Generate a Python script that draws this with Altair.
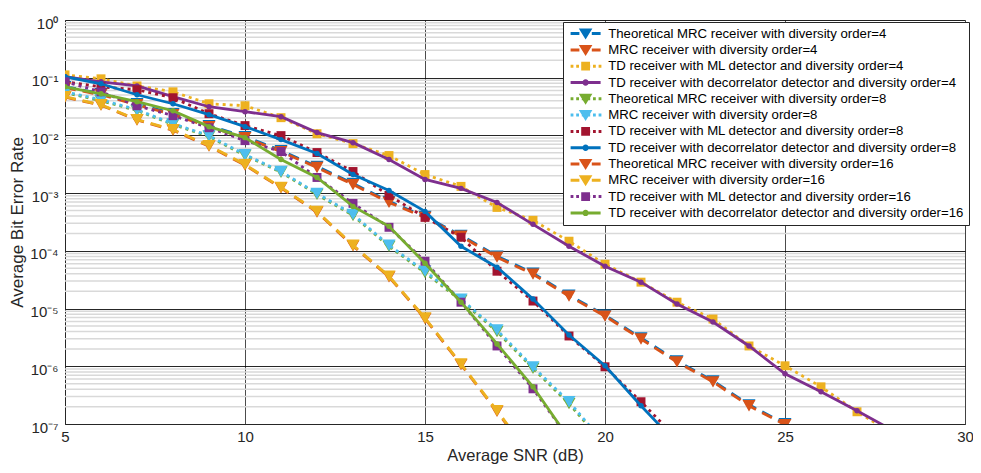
import altair as alt
import pandas as pd

# ---------------- data ----------------
series_names = [
    "Theoretical MRC receiver with diversity order=4",
    "MRC receiver with diversity order=4",
    "TD receiver with ML detector and diversity order=4",
    "TD receiver with decorrelator detector and diversity order=4",
    "Theoretical MRC receiver with diversity order=8",
    "MRC receiver with diversity order=8",
    "TD receiver with ML detector and diversity order=8",
    "TD receiver with decorrelator detector and diversity order=8",
    "Theoretical MRC receiver with diversity order=16",
    "MRC receiver with diversity order=16",
    "TD receiver with ML detector and diversity order=16",
    "TD receiver with decorrelator detector and diversity order=16",
]

snr_start = 5  # every series starts at 5 dB, 1 dB step

theory_mrc_4 = [0.070, 0.053, 0.0354, 0.0238, 0.0148, 0.0095, 0.00545, 0.0029, 0.00147,
                7.2e-4, 3.95e-4, 1.86e-4, 8.1e-5, 4.1e-5, 1.71e-5, 7.7e-6, 3.1e-6,
                1.24e-6, 5.6e-7, 2.15e-7, 1.01e-7]
mrc_4 = [0.067, 0.0507, 0.034, 0.0229, 0.0142, 0.00916, 0.00525, 0.00278, 0.00141,
         6.9e-4, 3.8e-4, 1.79e-4, 7.76e-5, 3.94e-5, 1.64e-5, 7.42e-6, 2.97e-6,
         1.19e-6, 5.38e-7, 2.07e-7, 9.7e-8]
td_ml_4 = [0.112, 0.0957, 0.072, 0.057, 0.0354, 0.0327, 0.0203, 0.0107, 0.00722,
           0.00448, 0.0021, 0.00131, 5.66e-4, 3.38e-4, 1.47e-4, 5.87e-5, 2.87e-5,
           1.29e-5, 6.59e-6, 2.25e-6, 1.02e-6, 4.41e-7, 1.63e-7, 6.8e-8]
td_dec_4 = [0.104, 0.085, 0.072, 0.047, 0.0314, 0.0258, 0.0211, 0.0112, 0.0075,
            0.00382, 0.00173, 0.00121, 6.9e-4, 2.88e-4, 1.2e-4, 5.42e-5, 2.87e-5,
            1.2e-5, 5.85e-6, 2.25e-6, 7.4e-7, 3.61e-7, 1.7e-7, 7.7e-8]
theory_mrc_8 = [0.055, 0.040, 0.027, 0.0155, 0.0096, 0.0045, 0.0023, 9.5e-4, 4.1e-4,
                1.2e-4, 4.2e-5, 1.38e-5, 4.0e-6, 9.2e-7, 2.25e-7, 4.3e-8]
mrc_8 = [0.057, 0.0415, 0.0279, 0.016, 0.00992, 0.00466, 0.00237, 9.9e-4, 4.29e-4,
         1.25e-4, 4.44e-5, 1.46e-5, 4.25e-6, 9.8e-7, 2.43e-7, 4.57e-8]
td_ml_8 = [0.085, 0.0697, 0.0618, 0.045, 0.0238, 0.0148, 0.00993, 0.00505, 0.00237,
           9.13e-4, 3.8e-4, 1.72e-4, 4.44e-5, 1.35e-5, 3.35e-6, 9.8e-7, 2.43e-7, 5.57e-8]
td_dec_8 = [0.104, 0.0785, 0.0507, 0.0354, 0.0229, 0.0142, 0.00846, 0.00485, 0.0021,
            0.00111, 4.83e-4, 1.2e-4, 5.21e-5, 1.46e-5, 3.49e-6, 1.02e-6, 2.07e-7, 4.57e-8]
theory_mrc_16 = [0.046, 0.0335, 0.0185, 0.0123, 0.0065, 0.00305, 0.00123, 4.7e-4,
                 1.22e-4, 3.55e-5, 6.7e-6, 1.07e-6, 1.65e-7, 2.4e-8]
mrc_16 = [0.047, 0.034, 0.0188, 0.0126, 0.00667, 0.00313, 0.00126, 4.83e-4, 1.25e-4,
          3.64e-5, 6.86e-6, 1.1e-6, 1.7e-7, 2.5e-8]
td_ml_16 = [0.085, 0.057, 0.0327, 0.022, 0.0136, 0.00813, 0.00525, 0.00187, 6.64e-4,
            2.56e-4, 6.61e-5, 1.29e-5, 2.25e-6, 4.07e-7, 5.57e-8]
td_dec_16 = [0.0697, 0.0527, 0.0384, 0.0268, 0.0142, 0.00916, 0.00382, 0.00187, 5.89e-4,
             2.66e-4, 6.1e-5, 1.29e-5, 2.44e-6, 4.41e-7, 5.57e-8]

series_values = [theory_mrc_4, mrc_4, td_ml_4, td_dec_4,
                 theory_mrc_8, mrc_8, td_ml_8, td_dec_8,
                 theory_mrc_16, mrc_16, td_ml_16, td_dec_16]

x_ticks = [5, 10, 15, 20, 25, 30]
y_decades = [1e-7, 1e-6, 1e-5, 1e-4, 1e-3, 1e-2, 1e-1, 1]
y_minor = [m * d for d in [1e-7, 1e-6, 1e-5, 1e-4, 1e-3, 1e-2, 1e-1] for m in range(2, 10)]

# ---------------- styles ----------------
BLUE, ORANGE, YELLOW, PURPLE = "#0072BD", "#D95319", "#EDB120", "#7E2F8E"
GREEN, LBLUE, DRED = "#77AC30", "#4DBEEE", "#A2142F"
colors = [BLUE, ORANGE, YELLOW, PURPLE, GREEN, LBLUE, DRED, BLUE, ORANGE, YELLOW, PURPLE, GREEN]
DASH, DOT, SOLID = [11, 7], [3, 4], None
dashes = [DASH, DASH, DOT, SOLID, DOT, DOT, DOT, SOLID, DASH, DASH, DOT, SOLID]
markers = ["triangle-down", "triangle-down", "square", "circle"] * 3
msize = {"triangle-down": 170, "square": 80, "circle": 30}

FONT = "Liberation Sans"

rows = []
for name, vals in zip(series_names, series_values):
    for i, v in enumerate(vals):
        rows.append({"snr": snr_start + i, "ber": v, "series": name})
df = pd.DataFrame(rows)

xscale = alt.Scale(domain=[5, 30], nice=False, zero=False)
yscale = alt.Scale(type="log", domain=[1e-7, 1], nice=False)

sup = "['\u2070','\u207b\u00b9','\u207b\u00b2','\u207b\u00b3','\u207b\u2074','\u207b\u2075','\u207b\u2076','\u207b\u2077']"
y_axis = alt.Axis(values=y_decades, title="Average Bit Error Rate",
                  labelExpr="'10' + " + sup + "[round(-log(datum.value)/LN10)]",
                  grid=True, gridColor="#000000", gridWidth=1, gridOpacity=0.85,
                  ticks=False, domainColor="#262626", labelFont=FONT, labelFontSize=15,
                  labelColor="#262626", labelPadding=7, labelOffset=3,
                  titleFont=FONT, titleFontSize=17, titleFontWeight="normal",
                  titleColor="#262626", titlePadding=3)
x_axis = alt.Axis(values=x_ticks, title="Average SNR (dB)", grid=True,
                  gridColor="#000000", gridWidth=1, gridOpacity=0.7, ticks=False,
                  domainColor="#262626", labelFont=FONT, labelFontSize=15,
                  labelColor="#262626", labelPadding=5, labelFlush=False,
                  titleFont=FONT, titleFontSize=16.5, titleFontWeight="normal",
                  titleColor="#262626", titlePadding=3)

minor = alt.Chart(pd.DataFrame({"v": y_minor})).mark_rule(
    color="#d9d9d9", strokeWidth=1.5).encode(y=alt.Y("v:Q", scale=yscale, axis=y_axis))

layers = [minor]
for name, col, dsh, mk in zip(series_names, colors, dashes, markers):
    base = alt.Chart(df).transform_filter(alt.datum.series == name)
    lkw = dict(color=col, strokeWidth=2.8, clip=True)
    if dsh is not None:
        lkw["strokeDash"] = dsh
    line = base.mark_line(**lkw).encode(
        x=alt.X("snr:Q", scale=xscale, axis=x_axis),
        y=alt.Y("ber:Q", scale=yscale, axis=y_axis))
    pts = base.mark_point(shape=mk, filled=True, color=col, opacity=1,
                          size=msize[mk], clip=True).encode(
        x=alt.X("snr:Q", scale=xscale, axis=x_axis),
        y=alt.Y("ber:Q", scale=yscale, axis=y_axis))
    layers += [line, pts]

# legend glyphs: line sample with marker (unit = sqrt(symbolSize)/2 px)
C = 2.75  # marker centre


def line_path(style):
    t = 0.38
    if style == "solid":
        return f"M-1,{-t}H6.5V{t}H-1Z"
    if style == "dash":
        return f"M-1,{-t}H1.2V{t}H-1Z M4.3,{-t}H6.5V{t}H4.3Z"
    segs = []
    x = -1.0
    while x < 6.4:
        segs.append(f"M{x:.2f},{-t}H{x + 0.7:.2f}V{t}H{x:.2f}Z")
        x += 1.4
    return " ".join(segs)


def marker_path(mk):
    if mk == "triangle-down":
        return f"M{C - 1.7},-1.25L{C + 1.7},-1.25L{C},1.5Z"
    if mk == "square":
        return f"M{C - 1.1},-1.1H{C + 1.1}V1.1H{C - 1.1}Z"
    return f"M{C + 0.8},0A0.8,0.8 0 1,1 {C - 0.8},0A0.8,0.8 0 1,1 {C + 0.8},0Z"


style_names = {str(DASH): "dash", str(DOT): "dot", "None": "solid"}
legend_shapes = [line_path(style_names[str(d)]) + " " + marker_path(m)
                 for d, m in zip(dashes, markers)]

legend_layer = alt.Chart(pd.DataFrame({"series": series_names})).transform_filter(
    "false").mark_point(filled=True, opacity=1).encode(
    color=alt.Color("series:N", scale=alt.Scale(domain=series_names, range=colors),
                    sort=series_names,
                    legend=alt.Legend(title=None, orient="none", legendX=498, legendY=2,
                                      fillColor="white", strokeColor="#262626",
                                      padding=5, cornerRadius=0,
                                      labelFont=FONT, labelFontSize=13.2,
                                      labelColor="#000000", labelLimit=0,
                                      symbolSize=64, symbolStrokeWidth=0,
                                      symbolOpacity=1,
                                      labelOffset=27, rowPadding=2.3)),
    shape=alt.Shape("series:N", scale=alt.Scale(domain=series_names, range=legend_shapes),
                    sort=series_names))
layers.append(legend_layer)

chart = alt.layer(*layers).properties(
    width=900, height=404,
    autosize=alt.AutoSizeParams(type="none"),
    padding={"left": 57, "top": 12, "right": 8, "bottom": 40},
).configure_view(stroke="#262626", strokeWidth=1).configure(
    background="white").configure_legend(strokeWidth=1)

chart.save("out.html", embed_options={"renderer": "svg", "actions": False})
